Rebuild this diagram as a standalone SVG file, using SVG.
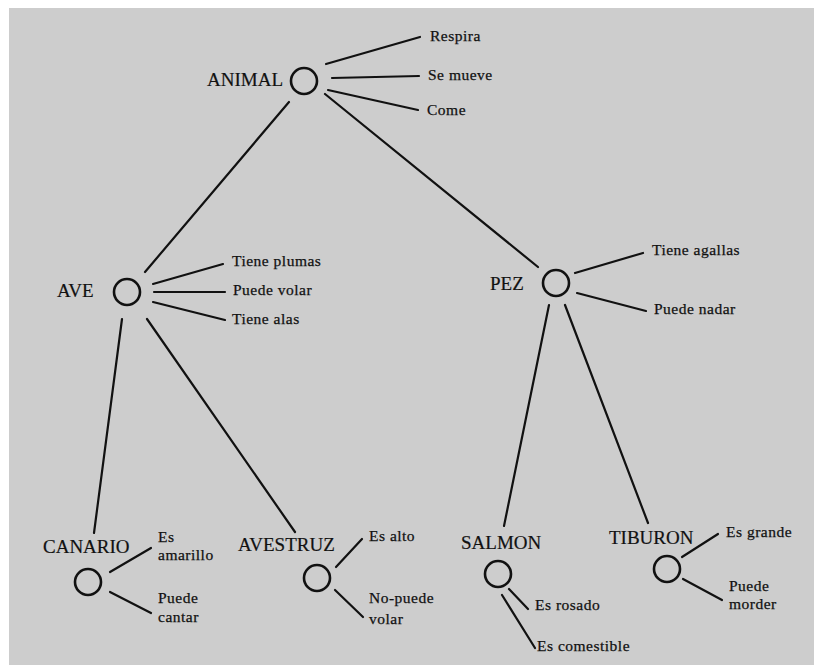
<svg xmlns="http://www.w3.org/2000/svg" width="814" height="668" viewBox="0 0 814 668">
<style>
.bg{fill:#cdcdcd}
.n{fill:none;stroke:#111;stroke-width:2.6}
.c line{stroke:#111;stroke-width:2.2;stroke-linecap:round}
.t{font-family:"Liberation Serif","Times New Roman",serif;font-size:19px;fill:#111;stroke:#111;stroke-width:0.2}
.s{font-family:"Liberation Serif","Times New Roman",serif;font-size:15.5px;letter-spacing:0.5px;fill:#111;stroke:#111;stroke-width:0.25}
</style>
<rect x="0" y="0" width="814" height="668" fill="#ffffff"/>
<rect class="bg" x="9" y="8" width="805" height="657"/>
<g id="connectors" class="c">
<line x1="289" y1="102" x2="145" y2="272"/>
<line x1="325" y1="94" x2="538" y2="267"/>
<line x1="326" y1="64" x2="420" y2="37"/>
<line x1="332" y1="78" x2="419" y2="76"/>
<line x1="328" y1="90" x2="418" y2="110"/>
<line x1="153" y1="284" x2="223" y2="264"/>
<line x1="154" y1="292" x2="225" y2="292"/>
<line x1="153" y1="302" x2="225" y2="320"/>
<line x1="122" y1="319" x2="94" y2="533"/>
<line x1="147" y1="319" x2="295" y2="532"/>
<line x1="575" y1="273" x2="643" y2="253"/>
<line x1="577" y1="293" x2="646" y2="311"/>
<line x1="549" y1="305" x2="504" y2="526"/>
<line x1="565" y1="305" x2="648" y2="523"/>
<line x1="110" y1="572" x2="151" y2="548"/>
<line x1="110" y1="592" x2="151" y2="613"/>
<line x1="336" y1="567" x2="362" y2="539"/>
<line x1="335" y1="590" x2="363" y2="617"/>
<line x1="509" y1="589" x2="528" y2="609"/>
<line x1="502" y1="595" x2="535" y2="648"/>
<line x1="682" y1="557" x2="718" y2="534"/>
<line x1="683" y1="579" x2="722" y2="600"/>
</g>
<g id="animal">
<circle class="n" cx="304" cy="81" r="13"/>
<text class="t" x="207" y="86">ANIMAL</text>
<text class="s" x="430" y="41">Respira</text>
<text class="s" x="428" y="80">Se mueve</text>
<text class="s" x="427" y="115">Come</text>
</g>
<g id="ave">
<circle class="n" cx="127" cy="292" r="13"/>
<text class="t" x="57" y="297">AVE</text>
<text class="s" x="232" y="266">Tiene plumas</text>
<text class="s" x="233" y="295">Puede volar</text>
<text class="s" x="232" y="324">Tiene alas</text>
</g>
<g id="pez">
<circle class="n" cx="556" cy="283" r="13"/>
<text class="t" x="490" y="290">PEZ</text>
<text class="s" x="652" y="255">Tiene agallas</text>
<text class="s" x="654" y="314">Puede nadar</text>
</g>
<g id="canario">
<circle class="n" cx="88" cy="582" r="13"/>
<text class="t" x="43" y="553">CANARIO</text>
<text class="s" x="158" y="542">Es</text>
<text class="s" x="158" y="560">amarillo</text>
<text class="s" x="158" y="603">Puede</text>
<text class="s" x="158" y="622">cantar</text>
</g>
<g id="avestruz">
<circle class="n" cx="317" cy="578" r="13"/>
<text class="t" x="238" y="551">AVESTRUZ</text>
<text class="s" x="369" y="541">Es alto</text>
<text class="s" x="369" y="603">No-puede</text>
<text class="s" x="369" y="624">volar</text>
</g>
<g id="salmon">
<circle class="n" cx="498" cy="574" r="13"/>
<text class="t" x="461" y="549">SALMON</text>
<text class="s" x="535" y="610">Es rosado</text>
<text class="s" x="537" y="651">Es comestible</text>
</g>
<g id="tiburon">
<circle class="n" cx="667" cy="569" r="13"/>
<text class="t" x="609" y="544">TIBURON</text>
<text class="s" x="726" y="537">Es grande</text>
<text class="s" x="729" y="591">Puede</text>
<text class="s" x="729" y="609">morder</text>
</g>
</svg>
